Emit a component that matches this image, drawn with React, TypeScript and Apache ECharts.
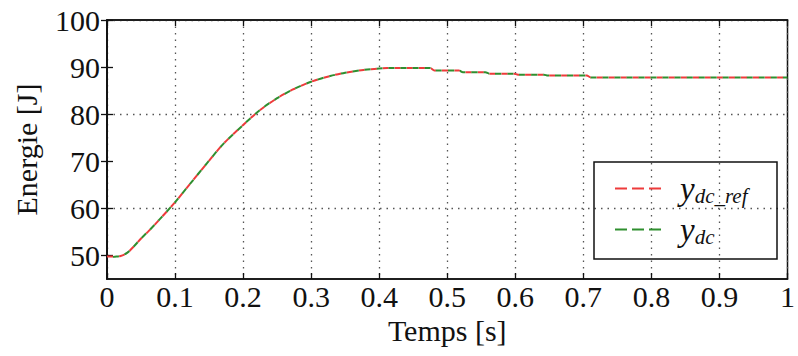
import React, { useEffect, useRef } from "react";
import * as echarts from "echarts";

const timeS = [0, 0.01, 0.02, 0.03, 0.04, 0.05, 0.06, 0.075, 0.1, 0.122, 0.147, 0.171, 0.2, 0.225, 0.25, 0.274, 0.3, 0.328, 0.35, 0.377, 0.4, 0.412, 0.475, 0.481, 0.517, 0.523, 0.556, 0.562, 0.598, 0.604, 0.642, 0.648, 0.705, 0.711, 1.0];
const energyRef = [49.8, 49.8, 49.9, 50.6, 52.0, 53.6, 55.0, 57.3, 61.3, 65.2, 69.6, 73.7, 77.7, 80.9, 83.4, 85.3, 86.9, 88.1, 88.8, 89.4, 89.7, 89.8, 89.8, 89.3, 89.3, 88.9, 88.9, 88.6, 88.6, 88.4, 88.4, 88.2, 88.2, 87.8, 87.8];
const energyMeas = [49.4, 49.7, 49.9, 50.6, 52.0, 53.6, 55.0, 57.3, 61.3, 65.2, 69.6, 73.7, 77.7, 80.9, 83.4, 85.3, 86.9, 88.1, 88.8, 89.4, 89.7, 89.8, 89.8, 89.3, 89.3, 88.9, 88.9, 88.6, 88.6, 88.4, 88.4, 88.2, 88.2, 87.8, 87.8];
const yTicks = [50, 60, 70, 80, 90, 100];
const seriesNames = ["ref", "meas"];

const FONT = "Liberation Serif";
const DASH_ICON = "path://M0,0H12V2H0Z M17,0H29V2H17Z M34,0H46V2H34Z";

export default function App() {
  const ref = useRef<HTMLDivElement>(null);
  useEffect(() => {
    if (!ref.current) return;
    const chart = echarts.init(ref.current, null, { renderer: "svg" });
    const grid = {
      left: 107,
      top: 20,
      right: 9,
      bottom: 77,
      show: true,
      borderColor: "#111",
      borderWidth: 1.5,
      backgroundColor: "#fff",
    };
    const gridLine = {
      show: true,
      lineStyle: { color: "#555", width: 1.3, type: [1.5, 5] as any },
    };
    const tick = { show: true, inside: true, length: 6, lineStyle: { color: "#111", width: 1.3 } };
    const label = { fontFamily: FONT, fontSize: 30, color: "#111" };
    const refData = timeS.map((t, i) => [t, energyRef[i]]);
    const measData = timeS.map((t, i) => [t, energyMeas[i]]);
    chart.setOption({
      animation: false,
      backgroundColor: "#fff",
      grid,
      xAxis: [
        {
          type: "value",
          min: 0,
          max: 1,
          interval: 0.1,
          position: "bottom",
          name: "Temps [s]",
          nameLocation: "middle",
          nameGap: 36,
          nameTextStyle: { fontFamily: FONT, fontSize: 30, color: "#111" },
          axisLine: { show: true, lineStyle: { color: "#111", width: 1.5 } },
          axisTick: tick,
          axisLabel: { ...label, margin: 2, formatter: (v: number) => String(+v.toFixed(1)) },
          splitLine: gridLine,
        },
        {
          type: "value",
          min: 0,
          max: 1,
          interval: 0.1,
          position: "top",
          axisLine: { show: true, lineStyle: { color: "#111", width: 1.5 } },
          axisTick: tick,
          axisLabel: { show: false },
          splitLine: { show: false },
        },
      ],
      yAxis: [
        {
          type: "value",
          min: 45,
          max: 100,
          interval: 5,
          position: "left",
          name: "Energie [J]",
          nameLocation: "middle",
          nameGap: 66,
          nameTextStyle: { fontFamily: FONT, fontSize: 30, color: "#111" },
          axisLine: { show: true, lineStyle: { color: "#111", width: 1.5 } },
          axisTick: { ...tick, customValues: yTicks },
          axisLabel: { ...label, margin: 7, customValues: yTicks },
          splitLine: { show: true, showMinLine: false, lineStyle: { color: ["#555", "rgba(0,0,0,0)"], width: 1.3, type: [1.5, 5] as any } },
        },
        {
          type: "value",
          min: 45,
          max: 100,
          interval: 5,
          position: "right",
          axisLine: { show: true, lineStyle: { color: "#111", width: 1.5 } },
          axisTick: { ...tick, customValues: yTicks },
          axisLabel: { show: false },
          splitLine: { show: false },
        },
      ],
      legend: {
        orient: "vertical",
        left: 610,
        top: 166,
        itemWidth: 46,
        itemHeight: 2,
        itemGap: 6,
        z: 10,
        icon: DASH_ICON,
        data: seriesNames,
        formatter: (name: string) =>
          name === "ref" ? "{y|y}{s|dc_ref}" : "{y|y}{s|dc}",
        textStyle: {
          padding: [0, 0, 0, 14],
          rich: {
            y: { fontFamily: FONT, fontStyle: "italic", fontSize: 33, color: "#111", lineHeight: 38 },
            s: { fontFamily: FONT, fontStyle: "italic", fontSize: 21, color: "#111", lineHeight: 38, padding: [14, 0, 0, 0] },
          },
        },
      },
      graphic: [
        {
          type: "rect",
          shape: { x: 594, y: 162, width: 183, height: 97 },
          style: { fill: "none", stroke: "#111", lineWidth: 1.5 },
          z: 2,
        },
      ],
      series: [
        {
          name: "ref",
          type: "line",
          data: refData,
          symbol: "none",
          smooth: 0.3,
          lineStyle: { color: "#ee3b3b", width: 2, type: [6, 6] as any },
          itemStyle: { color: "#ee3b3b" },
          z: 3,
        },
        {
          name: "meas",
          type: "line",
          data: measData,
          symbol: "none",
          smooth: 0.3,
          lineStyle: { color: "#2f8f2f", width: 2, type: [6, 6] as any, dashOffset: 6 },
          itemStyle: { color: "#2f8f2f" },
          z: 4,
        },
      ],
    });
    return () => chart.dispose();
  }, []);
  return <div ref={ref} style={{ width: 798, height: 356, position: "absolute", left: 0, top: 0 }} />;
}
